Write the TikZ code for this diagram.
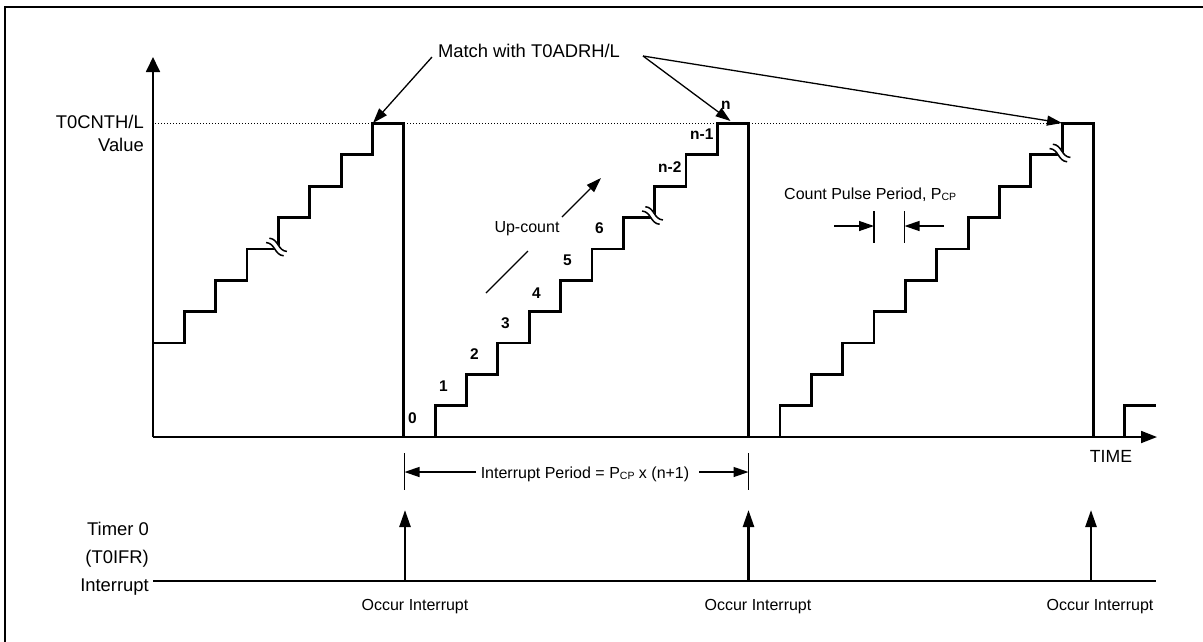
\documentclass[tikz,border=0pt]{standalone}
\usepackage{fontspec}
\setmainfont{Liberation Sans}
\usetikzlibrary{arrows.meta}
\newcommand\Pcp{P\raisebox{-1.3pt}{\fontsize{10.5}{12}\selectfont CP}}
\begin{document}
\begin{tikzpicture}[x=1pt,y=-1pt,
  big/.style={font=\fontsize{18.4}{22}\selectfont, inner sep=0pt},
  small/.style={font=\fontsize{16}{19}\selectfont, inner sep=0pt},
  num/.style={font=\bfseries\fontsize{15.5}{18}\selectfont, inner sep=0pt, anchor=base west},
  frameline/.style={line width=2pt},
  axis/.style={line width=1.8pt},
  stair/.style={line width=2.8pt, line join=miter},
  guide/.style={line width=1.4pt, dash pattern=on 1.4pt off 1.6pt},
  pointer/.style={line width=1.3pt, -{Triangle[length=15pt,width=10pt]}},
  tick/.style={line width=1.3pt},
  irq/.style={line width=2.5pt, -{Triangle[length=17pt,width=11pt]}},
  brk/.pic={
    \draw[white, line width=6pt] (-11,0) .. controls (-3,-5) and (3,5) .. (11,0);
    \foreach \d in {-2.7,2.7}
      \draw[line width=1.5pt, shift={(0,\d)}] (-11,0) .. controls (-3,-5) and (3,5) .. (11,0);
  }]
\useasboundingbox (0,0) rectangle (1203,641);

% outer frame
\draw[frameline] (5,650) -- (5,7) -- (1215,7);

% axes
\coordinate (O) at (153,437);
\coordinate (ytop) at (153,57);
\coordinate (xend) at (1157,437);
\draw[axis, -{Triangle[length=15pt,width=14pt]}] (O) -- (ytop);
\draw[axis, -{Triangle[length=16pt,width=12pt]}] (O) -- (xend);

% compare level
\coordinate (g0) at (155,123.5);
\coordinate (g1) at (1060,123.5);
\draw[guide] (g0) -- (g1);

% counter value
\begin{scope}[shift={(153,437)}, x=31.35pt, y=31.35pt]
  \draw[stair] (0,3) -| (1,4) -| (2,5) -| (3,6) -| (4,7) -| (5,8) -| (6,9) -| (7,10)
    -| (8,0) -| (9,1) -| (10,2) -| (11,3) -| (12,4) -| (13,5) -| (14,6) -| (15,7)
    -| (16,8) -| (17,9) -| (18,10) -| (19,0) -| (20,1) -| (21,2) -| (22,3) -| (23,4)
    -| (24,5) -| (25,6) -| (26,7) -| (27,8) -| (28,9) -| (29,10) -| (30,0) -| (31,1) -- (32,1);
\end{scope}

% omitted counts
\pic[rotate=-37] at (276.5,247) {brk};
\pic[rotate=-37] at (652.5,215.5) {brk};
\pic[rotate=-37] at (1060,153) {brk};

% axis labels
\node[big, anchor=base east] (val1) at (144,128) {T0CNTH/L};
\node[big, anchor=base east] (val2) at (144,151) {Value};
\node[small, font=\fontsize{17.6}{20}\selectfont, anchor=base] (time) at (1111,462) {TIME};

% match annotation
\node[big, anchor=base] (match) at (529,57) {Match with T0ADRH/L};
\coordinate (ma) at (432,57);
\coordinate (mb) at (643,56);
\coordinate (top1) at (373,123);
\coordinate (top2) at (730.5,121);
\coordinate (top3) at (1062,123);
\draw[pointer] (ma) -- (top1);
\draw[pointer] (mb) -- (top2);
\draw[pointer] (mb) -- (top3);

% count numbers
\node[num] (c0) at (408,423) {0};
\node[num] (c1) at (439,391.5) {1};
\node[num] (c2) at (470,359) {2};
\node[num] (c3) at (501,328) {3};
\node[num] (c4) at (532,298) {4};
\node[num] (c5) at (563,265) {5};
\node[num] (c6) at (595,233) {6};
\node[num] (cn2) at (658,172) {n-2};
\node[num] (cn1) at (690,139.5) {n-1};
\node[num] (cn) at (721,109) {n};

% up-count
\node[small, anchor=base] (upc) at (527,232) {Up-count};
\coordinate (u1) at (486,293);
\coordinate (u2) at (528,251);
\coordinate (u3) at (562,217);
\coordinate (u4) at (601,178);
\draw[line width=1.3pt] (u1) -- (u2);
\draw[pointer] (u3) -- (u4);

% count pulse period
\node[small, anchor=base west] (cpp) at (784,199) {Count Pulse Period, \Pcp};
\coordinate (pa) at (874,211);
\coordinate (pb) at (874,243);
\coordinate (pc) at (904.5,211);
\coordinate (pd) at (904.5,243);
\draw[tick] (pa) -- (pb);
\draw[tick] (pc) -- (pd);
\coordinate (pl) at (834,226);
\coordinate (pr) at (944,226);
\draw[pointer] (pl) -- (pa |- pl);
\draw[pointer] (pr) -- (pc |- pr);

% interrupt period
\node[small, anchor=base] (ipd) at (585,478) {Interrupt Period = \Pcp\ x (n+1)};
\coordinate (ia) at (404.5,453);
\coordinate (ib) at (404.5,490);
\coordinate (ic) at (748.5,453);
\coordinate (id) at (748.5,490);
\draw[tick] (ia) -- (ib);
\draw[tick] (ic) -- (id);
\coordinate (il) at (476,472);
\coordinate (ir) at (699,472);
\draw[pointer] (il) -- (ia |- il);
\draw[pointer] (ir) -- (ic |- ir);

% interrupt line
\node[big, anchor=base east] (t1) at (149,535) {Timer 0};
\node[big, anchor=base east] (t2) at (149,563.5) {(T0IFR)};
\node[big, anchor=base east] (t3) at (149,591) {Interrupt};
\coordinate (l0) at (153,581);
\coordinate (l1) at (1156,581);
\draw[line width=2pt] (l0) -- (l1);
\coordinate (q1) at (405,581);
\coordinate (q2) at (748.5,581);
\coordinate (q3) at (1091,581);
\draw[irq] (q1) -- ++(0,-71);
\draw[irq] (q2) -- ++(0,-71);
\draw[irq] (q3) -- ++(0,-71);
\node[small, anchor=base] (o1) at (415,610) {Occur Interrupt};
\node[small, anchor=base] (o2) at (758,610) {Occur Interrupt};
\node[small, anchor=base] (o3) at (1100,610) {Occur Interrupt};
\end{tikzpicture}
\end{document}
